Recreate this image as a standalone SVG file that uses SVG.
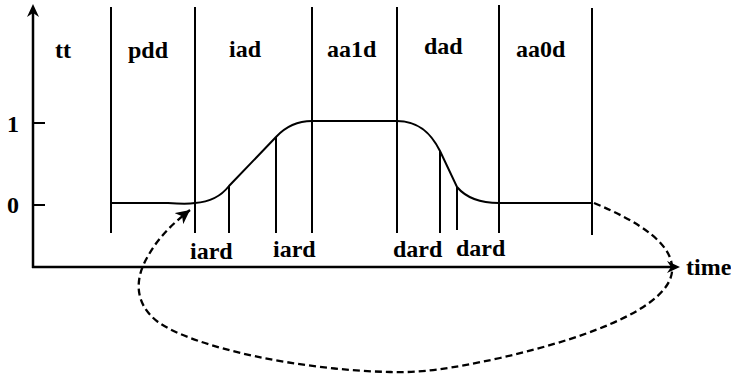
<svg xmlns="http://www.w3.org/2000/svg" width="731" height="377" viewBox="0 0 731 377">
<style>
.t{font-family:"Liberation Serif","Times New Roman",serif;font-weight:bold;font-size:24px;fill:#000}
.ln{stroke:#000;stroke-width:2;fill:none}
.ax{stroke:#000;stroke-width:2.5;fill:none}
.ds{stroke:#000;stroke-width:2.3;fill:none;stroke-dasharray:7,4}
</style>
<defs>
<marker id="dh" markerWidth="16" markerHeight="14" refX="14" refY="7" orient="auto" markerUnits="userSpaceOnUse">
<path d="M14,7 L0,0 L4,7 L0,14 Z" fill="#000"/>
</marker>
</defs>
<g id="axes">
<line class="ax" x1="33" y1="268" x2="33" y2="10"/>
<path d="M33,4 L39,17 L33,13 L27,17 Z" fill="#000"/>
<line class="ax" x1="32" y1="267" x2="674" y2="267"/>
<path d="M680,267 L667,261 L671,267 L667,273 Z" fill="#000"/>
<line class="ln" x1="33" y1="123" x2="45" y2="123"/>
<line class="ln" x1="33" y1="205" x2="45" y2="205"/>
<text class="t" x="7" y="132">1</text>
<text class="t" x="7" y="213">0</text>
<text class="t" x="686" y="275">time</text>
</g>
<g id="phases">
<line class="ln" x1="111" y1="7" x2="111" y2="233"/>
<line class="ln" x1="195" y1="7" x2="195" y2="233"/>
<line class="ln" x1="312" y1="7" x2="312" y2="233"/>
<line class="ln" x1="397" y1="7" x2="397" y2="233"/>
<line class="ln" x1="499" y1="5" x2="499" y2="233"/>
<line class="ln" x1="592" y1="8" x2="592" y2="235"/>
<text class="t" x="55" y="58">tt</text>
<text class="t" x="128" y="58">pdd</text>
<text class="t" x="229" y="57">iad</text>
<text class="t" x="327" y="57">aa1d</text>
<text class="t" x="424" y="54">dad</text>
<text class="t" x="516" y="57">aa0d</text>
</g>
<g id="signal">
<path class="ln" d="M111,203 L168,203 C180,204 190,204 195,203 C210,202 222,195 229,186 L276,137 C288,124 300,121 312,121 L397,121 C420,121 432,135 440,151 L457,187 C468,200 485,203 499,203 L592,203"/>
</g>
<g id="ramps">
<line class="ln" x1="229" y1="186" x2="229" y2="233"/>
<line class="ln" x1="276" y1="137" x2="276" y2="233"/>
<line class="ln" x1="440" y1="151" x2="440" y2="233"/>
<line class="ln" x1="457" y1="187" x2="457" y2="230"/>
<text class="t" x="190" y="259">iard</text>
<text class="t" x="273" y="257">iard</text>
<text class="t" x="393" y="257">dard</text>
<text class="t" x="456" y="256">dard</text>
</g>
<g id="connectors">
<path class="ds" marker-end="url(#dh)" d="M594,203 C640,222 675,245 672,272 C668,305 600,335 500,358 C450,369 420,373 390,372 C300,370 195,348 158,322 C132,302 136,276 148,256 C158,238 172,224 190,210"/>
</g>
</svg>
